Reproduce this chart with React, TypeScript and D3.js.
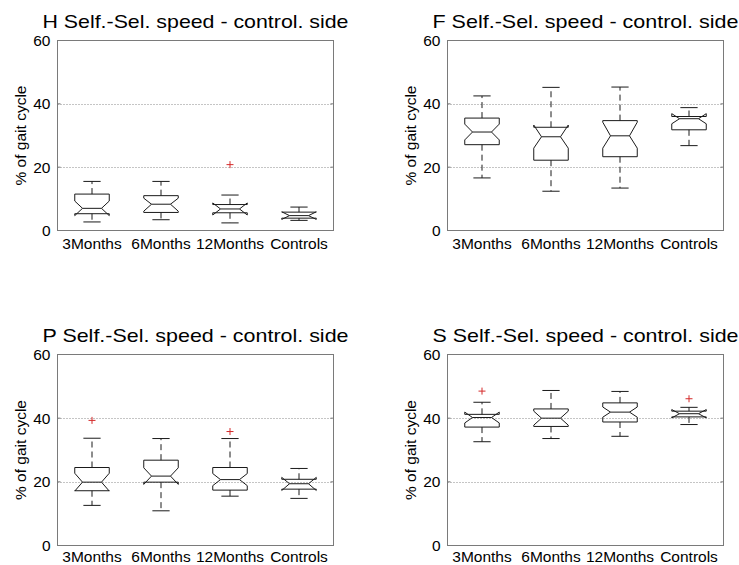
import React from "react";
import * as d3 from "d3";

// Group labels along the x axis
const categories = ["3Months", "6Months", "12Months", "Controls"];

// Y axis ticks (% of gait cycle)
const yTicks = [0, 20, 40, 60];
const gridValues = [20, 40];

// Box statistics per group: lower whisker, q1, median, q3, upper whisker,
// notch bounds and outliers
type Box = {
  lo: number;
  q1: number;
  med: number;
  q3: number;
  hi: number;
  nLo: number;
  nHi: number;
  out: number[];
};

const boxesH: Box[] = [
  { lo: 2.7, q1: 5.3, med: 7.0, q3: 11.5, hi: 15.5, nLo: 4.7, nHi: 9.3, out: [] },
  { lo: 3.4, q1: 5.7, med: 8.3, q3: 11.0, hi: 15.5, nLo: 6.1, nHi: 10.2, out: [] },
  { lo: 2.4, q1: 5.6, med: 6.8, q3: 8.2, hi: 11.2, nLo: 4.9, nHi: 8.7, out: [20.8] },
  { lo: 3.2, q1: 3.9, med: 4.7, q3: 5.8, hi: 7.4, nLo: 3.5, nHi: 5.9, out: [] },
];

const boxesF: Box[] = [
  { lo: 16.6, q1: 27.1, med: 31.1, q3: 35.5, hi: 42.5, nLo: 28.6, nHi: 33.6, out: [] },
  { lo: 12.4, q1: 22.2, med: 29.6, q3: 32.6, hi: 45.2, nLo: 26.0, nHi: 33.3, out: [] },
  { lo: 13.4, q1: 23.3, med: 29.9, q3: 34.7, hi: 45.3, nLo: 26.0, nHi: 34.2, out: [] },
  { lo: 26.8, q1: 31.8, med: 35.3, q3: 36.0, hi: 38.8, nLo: 33.7, nHi: 36.9, out: [] },
];

const boxesP: Box[] = [
  { lo: 12.6, q1: 17.2, med: 19.9, q3: 24.5, hi: 33.7, nLo: 17.1, nHi: 22.7, out: [39.3] },
  { lo: 10.9, q1: 19.9, med: 21.8, q3: 26.8, hi: 33.6, nLo: 19.2, nHi: 24.4, out: [] },
  { lo: 15.5, q1: 17.4, med: 20.7, q3: 24.5, hi: 33.6, nLo: 18.8, nHi: 22.6, out: [35.8] },
  { lo: 14.8, q1: 17.7, med: 19.4, q3: 20.8, hi: 24.2, nLo: 17.3, nHi: 21.4, out: [] },
];

const boxesS: Box[] = [
  { lo: 32.6, q1: 37.2, med: 40.2, q3: 41.2, hi: 45.0, nLo: 38.5, nHi: 41.9, out: [48.5] },
  { lo: 33.6, q1: 37.4, med: 40.0, q3: 42.9, hi: 48.7, nLo: 37.8, nHi: 42.2, out: [] },
  { lo: 34.3, q1: 38.8, med: 41.9, q3: 44.8, hi: 48.4, nLo: 40.3, nHi: 43.5, out: [] },
  { lo: 38.0, q1: 40.4, med: 41.4, q3: 42.2, hi: 43.4, nLo: 40.1, nHi: 42.7, out: [46.1] },
];

const titles = [
  "H Self.-Sel. speed - control. side",
  "F Self.-Sel. speed - control. side",
  "P Self.-Sel. speed - control. side",
  "S Self.-Sel. speed - control. side",
];

const yLabel = "% of gait cycle";

const FONT = "'Liberation Sans', Arial, Helvetica, sans-serif";
const WIDTH = 739;
const HEIGHT = 565;

type PanelProps = {
  title: string;
  boxes: Box[];
  x0: number;
  x1: number;
  y0: number;
  y1: number;
  labelGap: number;
};

function Panel({ title, boxes, x0, x1, y0, y1, labelGap }: PanelProps) {
  const x = d3.scaleLinear().domain([0.5, categories.length + 0.5]).range([x0, x1]);
  const y = d3.scaleLinear().domain([0, 60]).range([y1, y0]);
  const unit = x(1) - x(0);
  const halfW = unit * 0.25;
  const capHW = unit * 0.125;
  const inset = halfW * 0.45;
  const cx = (x0 + x1) / 2;
  const cy = (y0 + y1) / 2;

  const boxPath = (b: Box, c: number) => {
    const L = c - halfW;
    const R = c + halfW;
    const p = d3.path();
    p.moveTo(L, y(b.q3));
    p.lineTo(L, y(b.nHi));
    p.lineTo(L + inset, y(b.med));
    p.lineTo(L, y(b.nLo));
    p.lineTo(L, y(b.q1));
    p.lineTo(R, y(b.q1));
    p.lineTo(R, y(b.nLo));
    p.lineTo(R - inset, y(b.med));
    p.lineTo(R, y(b.nHi));
    p.lineTo(R, y(b.q3));
    p.closePath();
    return p.toString();
  };

  return (
    <g>
      <text
        x={cx - 153}
        y={y0 - 13}
        fontSize={19}
        fontFamily={FONT}
        fill="#000"
        textLength={306}
        lengthAdjust="spacingAndGlyphs"
      >
        {title}
      </text>

      {gridValues.map((v) => (
        <line
          key={"g" + v}
          x1={x0}
          x2={x1}
          y1={Math.round(y(v)) + 0.5}
          y2={Math.round(y(v)) + 0.5}
          stroke="#8a8a8a"
          strokeWidth={1}
          strokeDasharray="1,2"
        />
      ))}

      <rect x={x0} y={y0} width={x1 - x0} height={y1 - y0} fill="none" stroke="#7a7a7a" strokeWidth={1} />

      {yTicks.map((v) => (
        <g key={"t" + v}>
          <line x1={x0} x2={x0 + 3} y1={y(v)} y2={y(v)} stroke="#7a7a7a" />
          <line x1={x1 - 3} x2={x1} y1={y(v)} y2={y(v)} stroke="#7a7a7a" />
          <text
            x={x0 - 7}
            y={y(v)}
            dy="0.36em"
            textAnchor="end"
            fontSize={15.5}
            fontFamily={FONT}
            fill="#000"
          >
            {v}
          </text>
        </g>
      ))}

      {categories.map((c, i) => (
        <text
          key={c}
          x={x(i + 1)}
          y={y1 + labelGap}
          textAnchor="middle"
          fontSize={15.5}
          fontFamily={FONT}
          fill="#000"
        >
          {c}
        </text>
      ))}

      <text
        transform={`translate(${x0 - 31.5},${cy}) rotate(-90)`}
        textAnchor="middle"
        fontSize={15.5}
        fontFamily={FONT}
        fill="#000"
      >
        {yLabel}
      </text>

      {boxes.map((b, i) => {
        const c = x(i + 1);
        return (
          <g key={i} stroke="#1a1a1a" strokeWidth={1} fill="none">
            <line x1={c} x2={c} y1={y(b.q3)} y2={y(b.hi)} strokeDasharray="6,4" />
            <line x1={c} x2={c} y1={y(b.q1)} y2={y(b.lo)} strokeDasharray="6,4" />
            <line x1={c - capHW} x2={c + capHW} y1={y(b.hi)} y2={y(b.hi)} />
            <line x1={c - capHW} x2={c + capHW} y1={y(b.lo)} y2={y(b.lo)} />
            <path d={boxPath(b, c)} />
            <line x1={c - halfW + inset} x2={c + halfW - inset} y1={y(b.med)} y2={y(b.med)} />
            {b.out.map((o, k) => (
              <g key={k} stroke="#d42a2a">
                <line x1={c - 3.5} x2={c + 3.5} y1={y(o)} y2={y(o)} />
                <line x1={c} x2={c} y1={y(o) - 3.5} y2={y(o) + 3.5} />
              </g>
            ))}
          </g>
        );
      })}
    </g>
  );
}

export default function App() {
  return (
    <svg
      width={WIDTH}
      height={HEIGHT}
      style={{ position: "absolute", left: 0, top: 0, background: "#fff" }}
    >
      <rect width={WIDTH} height={HEIGHT} fill="#fff" />
      <Panel title={titles[0]} boxes={boxesH} x0={57.5} x1={333.5} y0={40.5} y1={230.5} labelGap={18.7} />
      <Panel title={titles[1]} boxes={boxesF} x0={447.5} x1={723.5} y0={40.5} y1={230.5} labelGap={18.7} />
      <Panel title={titles[2]} boxes={boxesP} x0={57.5} x1={333.5} y0={354.5} y1={545.5} labelGap={16} />
      <Panel title={titles[3]} boxes={boxesS} x0={447.5} x1={723.5} y0={354.5} y1={545.5} labelGap={16} />
    </svg>
  );
}
